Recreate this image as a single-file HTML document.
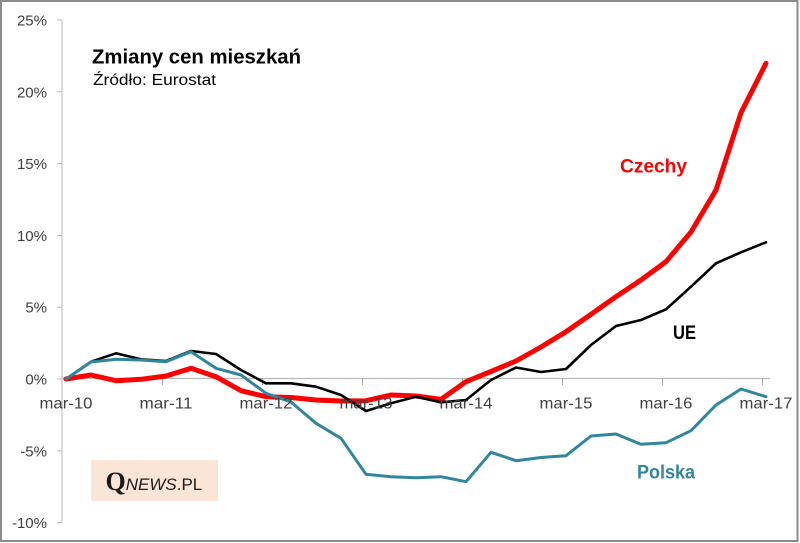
<!DOCTYPE html>
<html>
<head>
<meta charset="utf-8">
<style>
  html, body { margin: 0; padding: 0; background: #fff; }
  svg { display: block; }
  text { font-family: "Liberation Sans", "DejaVu Sans", sans-serif; }
</style>
</head>
<body>
<svg width="800" height="543" viewBox="0 0 800 543" xmlns="http://www.w3.org/2000/svg">
  <rect x="0" y="0" width="800" height="543" fill="#ffffff"/>
  <rect x="1" y="1" width="796.5" height="540" fill="none" stroke="#8c8c8c" stroke-width="2"/>

  <!-- Y axis -->
  <line x1="62" y1="20" x2="62" y2="523" stroke="#b8b8b8" stroke-width="1"/>
  <g stroke="#b8b8b8" stroke-width="1">
    <line x1="57" y1="20" x2="62" y2="20"/>
    <line x1="57" y1="91.8" x2="62" y2="91.8"/>
    <line x1="57" y1="163.6" x2="62" y2="163.6"/>
    <line x1="57" y1="235.4" x2="62" y2="235.4"/>
    <line x1="57" y1="307.2" x2="62" y2="307.2"/>
    <line x1="57" y1="379" x2="62" y2="379"/>
    <line x1="57" y1="450.8" x2="62" y2="450.8"/>
    <line x1="57" y1="522.6" x2="62" y2="522.6"/>
  </g>
  <g font-size="15" fill="#404040" text-anchor="end">
    <text x="47" y="25.5">25%</text>
    <text x="47" y="97.3">20%</text>
    <text x="47" y="169.1">15%</text>
    <text x="47" y="240.9">10%</text>
    <text x="47" y="312.7">5%</text>
    <text x="47" y="384.5">0%</text>
    <text x="47" y="456.3">-5%</text>
    <text x="47" y="528.1">-10%</text>
  </g>

  <!-- X axis -->
  <line x1="62" y1="378.5" x2="770" y2="378.5" stroke="#b8b8b8" stroke-width="1.2"/>
  <g stroke="#a0a0a0" stroke-width="1">
    <line x1="162.5" y1="378.5" x2="162.5" y2="385"/>
    <line x1="262.5" y1="378.5" x2="262.5" y2="385"/>
    <line x1="362.5" y1="378.5" x2="362.5" y2="385"/>
    <line x1="462.5" y1="378.5" x2="462.5" y2="385"/>
    <line x1="562.5" y1="378.5" x2="562.5" y2="385"/>
    <line x1="662.5" y1="378.5" x2="662.5" y2="385"/>
    <line x1="762.5" y1="378.5" x2="762.5" y2="385"/>
  </g>

  <!-- Series -->
  <polyline fill="none" stroke="#ff0000" stroke-width="5" stroke-linejoin="round" stroke-linecap="round"
    points="66,379 91,375 116,380.7 141,379.3 166,376 191,368.3 216,376.7 241,390.7 266,396.7 291,397.5 316,400 341,401 366,400.7 391,395 416,396 441,399.3 466,381.7 491,371.5 516,361 541,347 566,331.7 591,314.3 616,296.7 641,280 666,261.7 691,232 716,190 741,112.7 766,63.3"/>
  <polyline fill="none" stroke="#000000" stroke-width="2.6" stroke-linejoin="round" stroke-linecap="round"
    points="66,379 91,361.7 116,353.3 141,359.3 166,361 191,351 216,354 241,370 266,383.3 291,383.3 316,386.7 341,395 366,411 391,403.3 416,396.7 441,402.3 466,400 491,380 516,367.5 541,372 566,369 591,345 616,326 641,320 666,309.3 691,286.7 716,263.3 741,252.3 766,242.3"/>
  <polyline fill="none" stroke="#31859c" stroke-width="3" stroke-linejoin="round" stroke-linecap="round"
    points="66,379 91,362 116,359.3 141,360 166,361.7 191,351.7 216,368.3 241,375 266,393.3 291,402 316,423.3 341,438.3 366,474.3 391,476.7 416,477.7 441,476.7 466,481.7 491,452.3 516,460.7 541,457.5 566,455.7 591,436 616,434 641,444.3 666,442.7 691,430.7 716,405 741,389 766,396.7"/>

  <!-- X labels -->
  <g font-size="16" fill="#404040" text-anchor="middle">
    <text x="66" y="408.5" textLength="53" lengthAdjust="spacingAndGlyphs">mar-10</text>
    <text x="166" y="408.5" textLength="53" lengthAdjust="spacingAndGlyphs">mar-11</text>
    <text x="266" y="408.5" textLength="53" lengthAdjust="spacingAndGlyphs">mar-12</text>
    <text x="366" y="408.5" textLength="53" lengthAdjust="spacingAndGlyphs">mar-13</text>
    <text x="466" y="408.5" textLength="53" lengthAdjust="spacingAndGlyphs">mar-14</text>
    <text x="566" y="408.5" textLength="53" lengthAdjust="spacingAndGlyphs">mar-15</text>
    <text x="666" y="408.5" textLength="53" lengthAdjust="spacingAndGlyphs">mar-16</text>
    <text x="766" y="408.5" textLength="53" lengthAdjust="spacingAndGlyphs">mar-17</text>
  </g>

  <!-- Title -->
  <text x="92" y="63.3" font-size="20" font-weight="bold" fill="#000" textLength="209" lengthAdjust="spacingAndGlyphs">Zmiany cen mieszkań</text>
  <text x="93" y="85" font-size="16" fill="#000" textLength="123" lengthAdjust="spacingAndGlyphs">Źródło: Eurostat</text>

  <!-- Series labels -->
  <text x="620" y="172.3" font-size="19" font-weight="bold" fill="#ff0000" textLength="67" lengthAdjust="spacingAndGlyphs">Czechy</text>
  <text x="673" y="339" font-size="19" font-weight="bold" fill="#000000" textLength="23" lengthAdjust="spacingAndGlyphs">UE</text>
  <text x="637" y="478.3" font-size="19" font-weight="bold" fill="#31859c" textLength="58" lengthAdjust="spacingAndGlyphs">Polska</text>

  <!-- QNEWS.PL logo -->
  <rect x="91" y="460" width="127" height="41" fill="#fbe5d6"/>
  <text x="105.5" y="490" fill="#1a1a1a">
    <tspan font-family="Liberation Serif, serif" font-size="26" font-weight="bold">Q</tspan><tspan font-size="17" font-style="italic">NEWS</tspan><tspan font-size="17">.PL</tspan>
  </text>
</svg>
</body>
</html>
